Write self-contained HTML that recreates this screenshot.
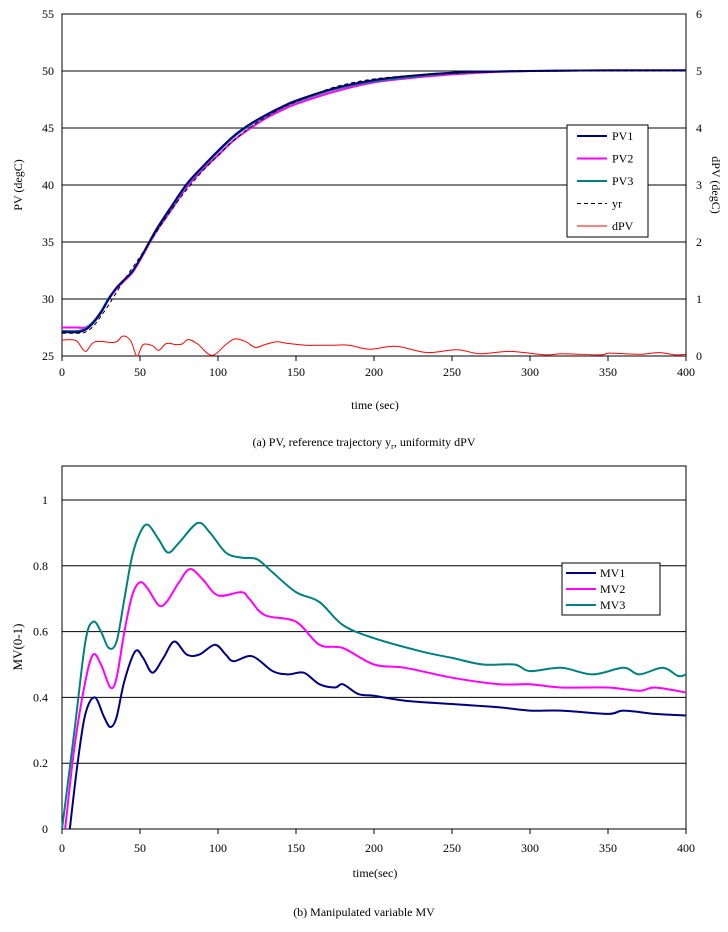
<!DOCTYPE html>
<html><head><meta charset="utf-8"><style>
body{margin:0;background:#fff;}
svg{display:block;font-family:"Liberation Serif",serif;}
</style></head><body>
<svg id="c" width="728" height="932" xmlns="http://www.w3.org/2000/svg"></svg>
<script>
// Top chart data
const pvTime=[0,10,15,20,25,30,35,40,45,50,60,70,80,90,100,110,120,130,140,150,175,200,225,250,275,300,350,400];
const pv1=[27.1,27.1,27.3,27.9,28.8,30.0,31.0,31.7,32.4,33.5,36.0,38.1,40.1,41.6,43.0,44.3,45.3,46.1,46.8,47.4,48.5,49.2,49.6,49.85,49.95,50.0,50.05,50.05];
const pv2=[27.5,27.5,27.5,28.0,28.9,30.0,30.9,31.6,32.3,33.4,35.8,37.8,39.8,41.3,42.6,43.9,44.9,45.8,46.5,47.1,48.2,49.0,49.4,49.7,49.9,50.0,50.05,50.05];
const pv3=[27.2,27.2,27.4,28.0,28.9,30.1,31.0,31.7,32.4,33.5,35.9,38.0,40.0,41.5,42.9,44.2,45.2,46.0,46.7,47.3,48.4,49.1,49.5,49.8,49.95,50.0,50.05,50.05];
const yr=[27.0,27.0,27.1,27.6,28.5,29.5,30.6,31.7,32.7,33.7,35.8,37.8,39.6,41.2,42.6,43.9,45.0,45.9,46.7,47.3,48.6,49.3,49.6,49.8,49.9,50.0,50.0,50.0];
const dTime=[0,9,15,21,34,39,44,48,52,58,62,67,73,77,81,87,96,105,111,118,124,130,138,145,156,166,175,184,197,214,234,253,268,287,310,321,345,351,370,383,393,400];
const dpv=[0.28,0.27,0.08,0.25,0.24,0.35,0.27,0.0,0.2,0.18,0.1,0.22,0.2,0.21,0.29,0.21,0.01,0.2,0.3,0.25,0.15,0.2,0.25,0.22,0.19,0.19,0.19,0.19,0.12,0.17,0.06,0.11,0.04,0.08,0.02,0.04,0.02,0.05,0.03,0.06,0.02,0.03];
// Bottom chart data
const mv1T=[5,10,15,21,27,31,35,40,47,52,58,65,72,80,88,98,105,110,122,135,145,155,165,175,180,190,200,220,250,280,300,320,350,360,380,400];
const mv1=[0,0.2,0.35,0.40,0.34,0.31,0.34,0.45,0.54,0.52,0.475,0.52,0.57,0.53,0.53,0.56,0.53,0.51,0.525,0.48,0.47,0.475,0.44,0.43,0.44,0.41,0.405,0.39,0.38,0.37,0.36,0.36,0.35,0.36,0.35,0.345];
const mv2T=[2,8,15,20,25,31,35,40,45,50,55,62,67,75,82,90,100,115,120,130,150,165,180,200,220,250,280,300,320,350,370,380,400];
const mv2=[0,0.25,0.45,0.53,0.5,0.43,0.46,0.6,0.71,0.75,0.73,0.68,0.69,0.75,0.79,0.76,0.71,0.72,0.7,0.65,0.63,0.56,0.55,0.5,0.49,0.46,0.44,0.44,0.43,0.43,0.42,0.43,0.415];
const mv3T=[0,8,15,20,25,30,35,40,45,50,55,62,68,75,87,95,105,115,125,135,150,165,180,200,230,250,270,290,300,320,340,360,370,385,395,400];
const mv3=[0,0.3,0.57,0.63,0.6,0.55,0.57,0.7,0.83,0.9,0.925,0.88,0.84,0.87,0.93,0.9,0.84,0.825,0.82,0.78,0.72,0.69,0.62,0.58,0.54,0.52,0.5,0.5,0.48,0.49,0.47,0.49,0.47,0.49,0.465,0.47];
const xTicks=[0,50,100,150,200,250,300,350,400];
const pvTicks=[25,30,35,40,45,50,55];
const dTicks=[0,1,2,3,4,5,6];
const mvTicks=[0,0.2,0.4,0.6,0.8,1];

const NS="http://www.w3.org/2000/svg";
const svg=document.getElementById('c');
function el(t,a,txt){const e=document.createElementNS(NS,t);for(const k in a)e.setAttribute(k,a[k]);if(txt!==undefined)e.textContent=txt;svg.appendChild(e);return e;}
const X0=62,X1=686;
const xs=t=>X0+(X1-X0)*t/400;
const yPV=v=>356-(v-25)*(342/30);
const yD=v=>356-v*57;
const yMV=v=>829-v*329;
function smoothPath(P){
  let d='M'+P[0][0].toFixed(1)+','+P[0][1].toFixed(1);
  for(let i=0;i<P.length-1;i++){
    const p0=P[Math.max(0,i-1)],p1=P[i],p2=P[i+1],p3=P[Math.min(P.length-1,i+2)];
    const c1=[p1[0]+(p2[0]-p0[0])/6,p1[1]+(p2[1]-p0[1])/6];
    const c2=[p2[0]-(p3[0]-p1[0])/6,p2[1]-(p3[1]-p1[1])/6];
    d+=' C'+c1[0].toFixed(1)+','+c1[1].toFixed(1)+' '+c2[0].toFixed(1)+','+c2[1].toFixed(1)+' '+p2[0].toFixed(1)+','+p2[1].toFixed(1);
  }
  return d;
}
function line(ts,vs,yf,col,w,dash,name){
  const P=ts.map((t,i)=>[xs(t),yf(vs[i])]);
  const e=el('path',{d:smoothPath(P),fill:'none',stroke:col,'stroke-width':w});
  if(dash)e.setAttribute('stroke-dasharray',dash);
  
  
}
function txt(x,y,s,opts,name){const e=el('text',Object.assign({x:x,y:y,'font-size':12,fill:'#000'},opts||{}),s);return e;}

// Top chart
pvTicks.forEach(v=>{const g=el('line',{x1:X0,x2:X1,y1:yPV(v),y2:yPV(v),stroke:'#000','stroke-width':1});
 txt(X0-8,yPV(v)+4,String(v),{'text-anchor':'end'},'y-tick-label');});
dTicks.forEach(v=>txt(X1+10,yD(v)+4,String(v),{'text-anchor':'start'},'y2-tick-label'));
let fr=el('rect',{x:X0,y:14,width:X1-X0,height:342,fill:'none',stroke:'#000'});
xTicks.forEach(t=>{el('line',{x1:xs(t),x2:xs(t),y1:356,y2:361,stroke:'#000'});txt(xs(t),376,String(t),{'text-anchor':'middle'},'x-tick-label');});
line(dTime,dpv,yD,'#ff0000',1,null,'dpv-line');
line(pvTime,pv2,yPV,'#ff00ff',2,null,'pv2-line');
line(pvTime,pv3,yPV,'#008080',2,null,'pv3-line');
line(pvTime,pv1,yPV,'#000080',2,null,'pv1-line');
line(pvTime,yr,yPV,'#000',1,'4,3','yr-line');
txt(375,409,'time (sec)',{'text-anchor':'middle'},'x-axis-title');
txt(22,185,'PV (degC)',{'text-anchor':'middle',transform:'rotate(-90 22 185)'},'y-axis-title');
txt(712,185,'dPV (degC)',{'text-anchor':'middle',transform:'rotate(90 712 185)'},'y2-axis-title');
let lg=el('rect',{x:567,y:125,width:81,height:112,fill:'#fff',stroke:'#000'});
[['PV1','#000080',2,null],['PV2','#ff00ff',2,null],['PV3','#008080',2,null],['yr','#000',1,'4,3'],['dPV','#ff0000',1,null]].forEach((d,i)=>{
 const y=136+i*22.5;const l=el('line',{x1:577,x2:607,y1:y,y2:y,stroke:d[1],'stroke-width':d[2]});if(d[3])l.setAttribute('stroke-dasharray',d[3]);
 txt(612,y+4,d[0],{},'legend-entry');});
const cap=el('text',{x:364,y:446,'font-size':12,'text-anchor':'middle'});cap.innerHTML='(a) PV, reference trajectory y<tspan font-size="8" dy="3">r</tspan><tspan dy="-3">, uniformity dPV</tspan>';

// Bottom chart
mvTicks.forEach(v=>{if(v>0){const g=el('line',{x1:X0,x2:X1,y1:yMV(v),y2:yMV(v),stroke:'#000'});}
 txt(X0-14,yMV(v)+4,String(v),{'text-anchor':'end'},'mv-tick-label');});
fr=el('rect',{x:X0,y:466,width:X1-X0,height:363,fill:'none',stroke:'#000'});
xTicks.forEach(t=>{el('line',{x1:xs(t),x2:xs(t),y1:829,y2:834,stroke:'#000'});txt(xs(t),852,String(t),{'text-anchor':'middle'},'x-tick-label-b');});
line(mv3T,mv3,yMV,'#008080',2,null,'mv3-line');
line(mv2T,mv2,yMV,'#ff00ff',2,null,'mv2-line');
line(mv1T,mv1,yMV,'#000080',2,null,'mv1-line');
txt(375,877,'time(sec)',{'text-anchor':'middle'},'x-axis-title-b');
txt(22,647,'MV(0-1)',{'text-anchor':'middle',transform:'rotate(-90 22 647)','font-size':13},'mv-axis-title');
lg=el('rect',{x:562,y:563,width:98,height:52,fill:'#fff',stroke:'#000'});
[['MV1','#000080'],['MV2','#ff00ff'],['MV3','#008080']].forEach((d,i)=>{
 const y=573+i*16;el('line',{x1:566,x2:596,y1:y,y2:y,stroke:d[1],'stroke-width':2});
 txt(600,y+4,d[0],{},'legend-entry-b');});
txt(364,916,'(b) Manipulated variable MV',{'text-anchor':'middle'},'caption-b');
</script>
</body></html>
